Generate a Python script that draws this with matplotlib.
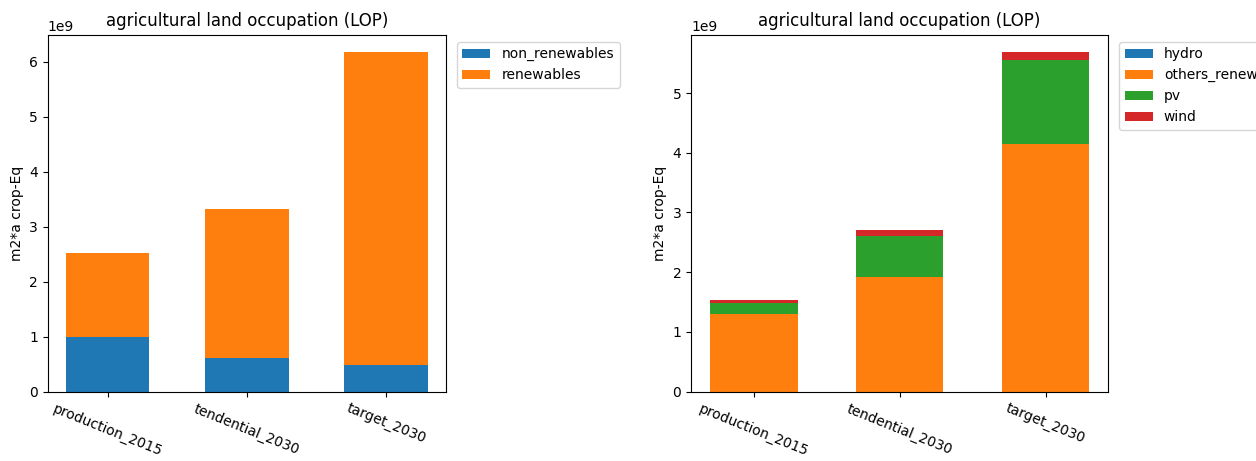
import matplotlib
matplotlib.use("Agg")
import matplotlib.pyplot as plt
import numpy as np

scenarios = ["production_2015", "tendential_2030", "target_2030"]

# Left panel: split by renewable / non-renewable (units of 1e9 m2*a crop-Eq)
non_renewables = [1.00, 0.62, 0.49]
renewables = [1.53, 2.70, 5.69]

# Right panel: renewables broken down by technology
hydro = [0.0, 0.0, 0.0]
others_renewables = [1.30, 1.92, 4.15]
pv = [0.18, 0.69, 1.41]
wind = [0.05, 0.09, 0.13]

title = "agricultural land occupation (LOP)"
ylabel = "m2*a crop-Eq"
colors = ["#1f77b4", "#ff7f0e", "#2ca02c", "#d62728"]

W, H = 1256, 461
fig = plt.figure(figsize=(W / 100, H / 100), dpi=100)

bottom_px, top_px = 391.7, 34.8
ax_h = (bottom_px - top_px) / H
ax_y = (H - bottom_px) / H
ax1 = fig.add_axes([47.7 / W, ax_y, (446.0 - 47.7) / W, ax_h])
ax2 = fig.add_axes([691.0 / W, ax_y, (1108.3 - 691.0) / W, ax_h])


def stacked(ax, series, names):
    x = np.arange(len(scenarios))
    base = np.zeros(len(scenarios))
    for vals, name, c in zip(series, names, colors):
        v = np.array(vals) * 1e9
        ax.bar(x, v, width=0.6, bottom=base, color=c, label=name)
        base += v
    ax.set_xticks(x)
    ax.set_xticklabels(scenarios, rotation=-22, ha="center")
    ax.set_title(title)
    ax.set_ylabel(ylabel)
    ax.legend(loc="upper left", bbox_to_anchor=(1.01, 1.0))


stacked(ax1, [non_renewables, renewables], ["non_renewables", "renewables"])
stacked(ax2, [hydro, others_renewables, pv, wind],
        ["hydro", "others_renewables", "pv", "wind"])

fig.savefig("out.png", dpi=100)
